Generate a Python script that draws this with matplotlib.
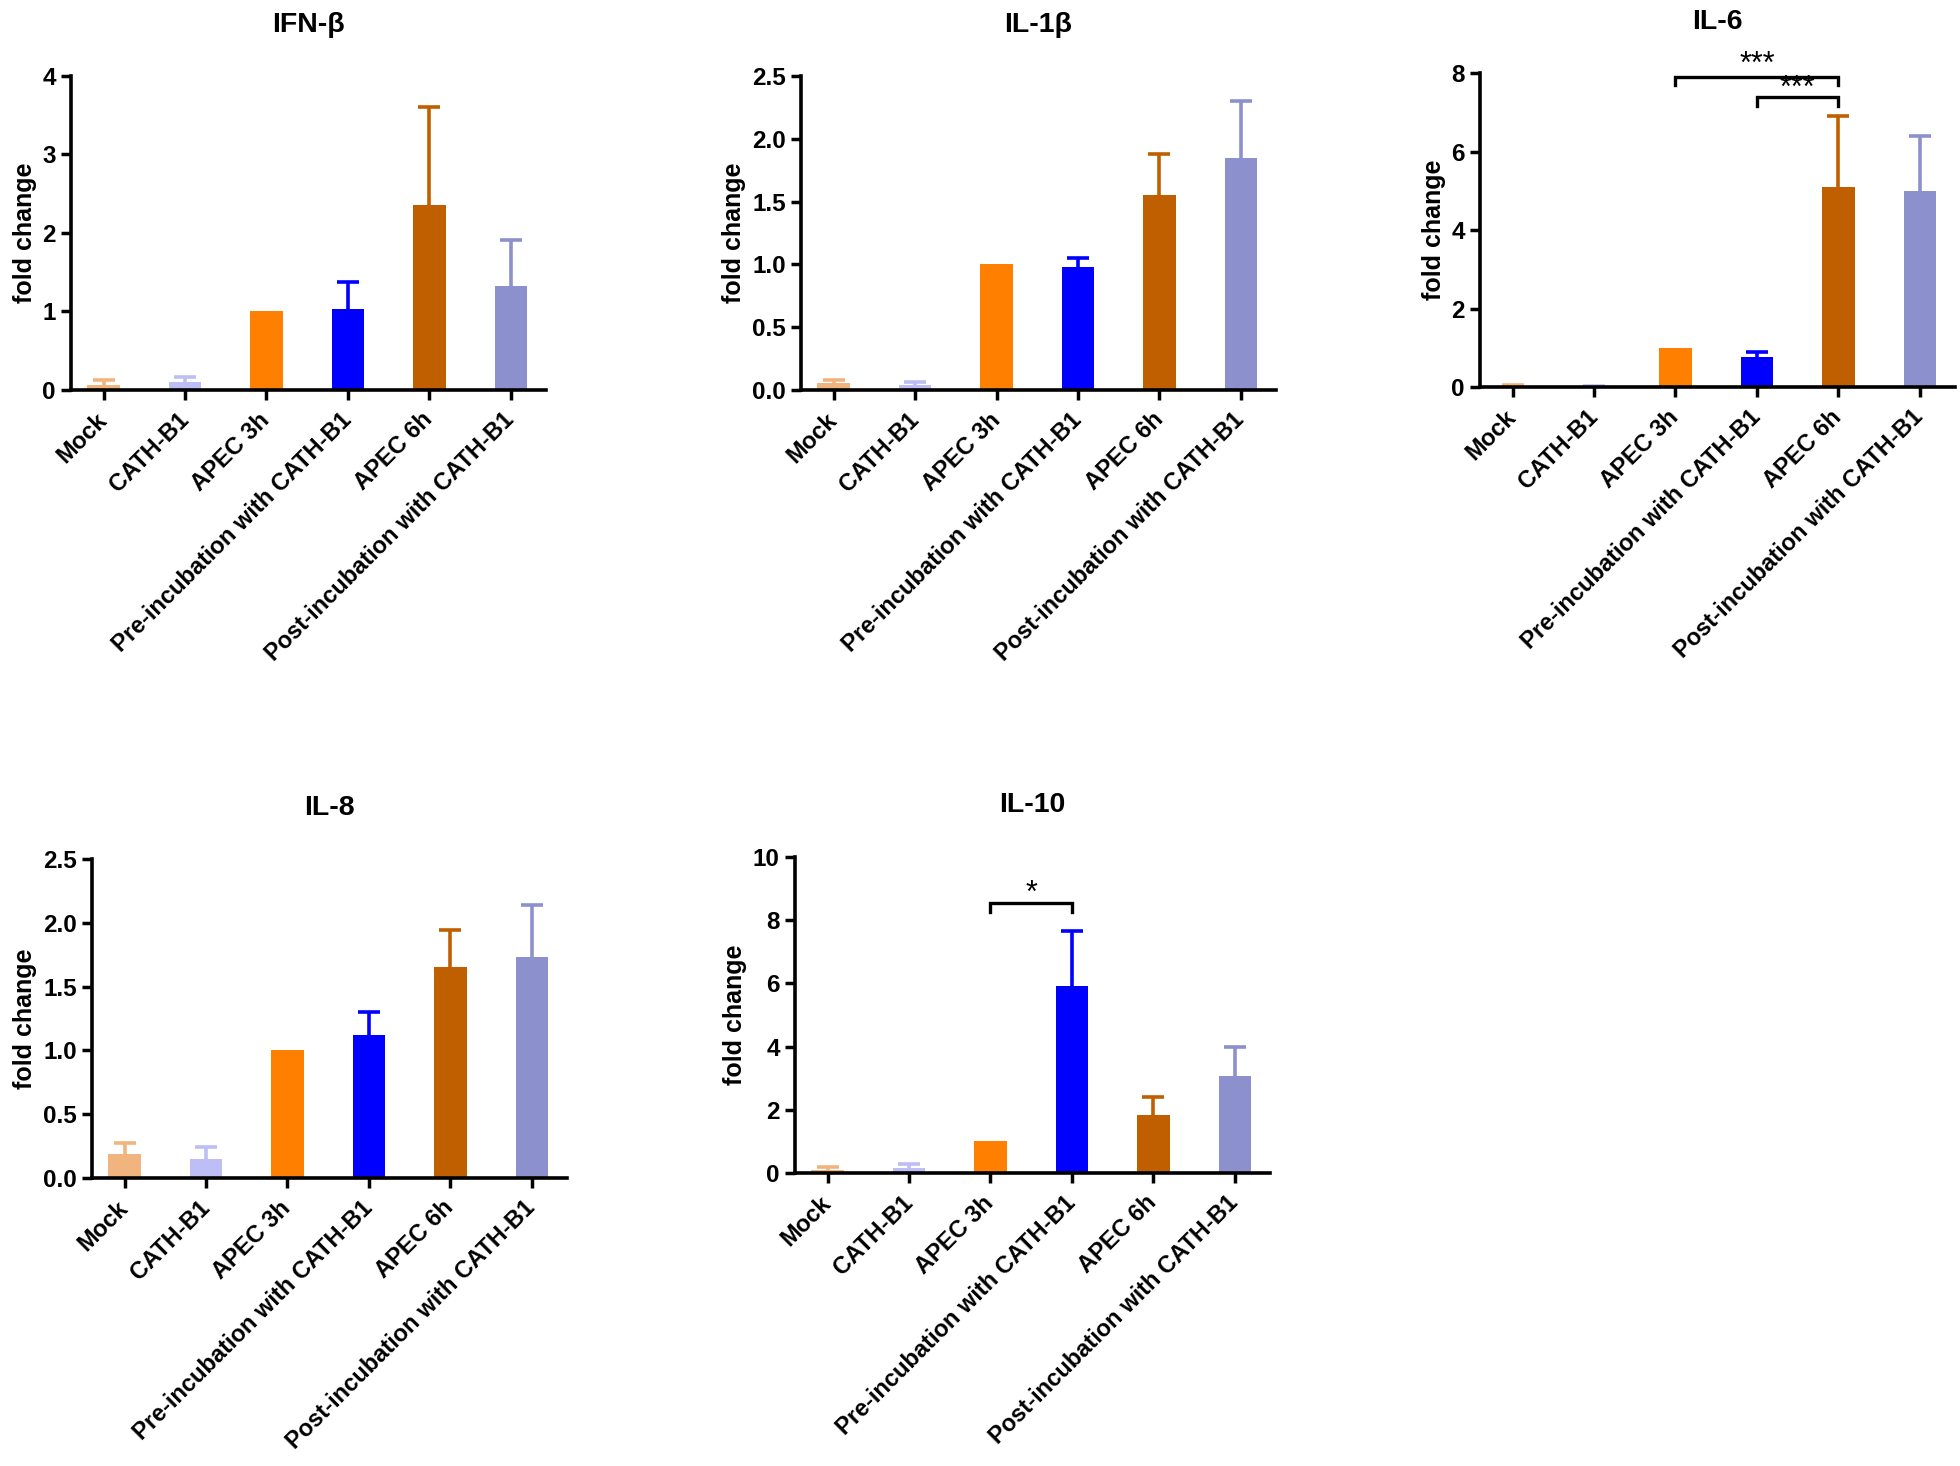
import matplotlib
matplotlib.use("Agg")
import matplotlib.pyplot as plt
import numpy as np

plt.rcParams["font.family"] = ["Liberation Sans", "DejaVu Sans"]
plt.rcParams["font.weight"] = "bold"

groups = ["Mock", "CATH-B1", "APEC 3h", "Pre-incubation with CATH-B1",
          "APEC 6h", "Post-incubation with CATH-B1"]
colors = ["#F2B47E", "#BEBEF6", "#FF8000", "#0000FF", "#C05F00", "#8C90CD"]

# mean fold change and upper error (SD) per cytokine
ifnb_mean = [0.06, 0.10, 1.0, 1.03, 2.35, 1.33]
ifnb_err = [0.065, 0.06, 0.0, 0.35, 1.26, 0.58]

il1b_mean = [0.053, 0.04, 1.0, 0.98, 1.55, 1.85]
il1b_err = [0.03, 0.02, 0.0, 0.07, 0.33, 0.45]

il6_mean = [0.03, 0.02, 1.0, 0.77, 5.09, 5.0]
il6_err = [0.01, 0.01, 0.0, 0.12, 1.81, 1.39]

il8_mean = [0.186, 0.152, 1.0, 1.12, 1.65, 1.73]
il8_err = [0.084, 0.088, 0.0, 0.18, 0.29, 0.41]

il10_mean = [0.085, 0.16, 1.0, 5.9, 1.84, 3.07]
il10_err = [0.105, 0.12, 0.0, 1.75, 0.57, 0.90]

# (title, means, errors, ymax, ystep, tick format, axes rect)
panels = [
    ("IFN-β", ifnb_mean, ifnb_err, 4, 1, "%d", [0.0362, 0.7340, 0.2423, 0.2142]),
    ("IL-1β", il1b_mean, il1b_err, 2.5, 0.5, "%.1f", [0.4087, 0.7340, 0.2423, 0.2142]),
    ("IL-6", il6_mean, il6_err, 8, 2, "%d", [0.7551, 0.7360, 0.2423, 0.2142]),
    ("IL-8", il8_mean, il8_err, 2.5, 0.5, "%.1f", [0.0469, 0.1965, 0.2423, 0.2176]),
    ("IL-10", il10_mean, il10_err, 10, 2, "%d", [0.4056, 0.1999, 0.2423, 0.2156]),
]

# significance brackets: panel title -> list of (i, j, line y, leg y, star y, label)
brackets = {
    "IL-6": [(2, 4, 7.90, 7.69, 8.20, "***"), (3, 4, 7.39, 7.16, 7.60, "***")],
    "IL-10": [(2, 3, 8.55, 8.27, 8.84, "*")],
}

fig = plt.figure(figsize=(19.6, 14.66), dpi=100)
x = np.arange(len(groups))

for title, mean, err, ymax, ystep, fmt, rect in panels:
    ax = fig.add_axes(rect)
    ax.bar(x, mean, width=0.4, color=colors, zorder=2)
    for xi, m, e, c in zip(x, mean, err, colors):
        if e > 0:
            _, caps, _ = ax.errorbar(xi, m, yerr=[[0], [e]], fmt="none", ecolor=c,
                                     elinewidth=2.6, capsize=8, capthick=2.6,
                                     zorder=1)
            caps[0].set_visible(False)
    ax.set_xlim(-0.4, 5.43)
    ax.set_ylim(0, ymax)
    ax.set_yticks(np.arange(0, ymax + ystep / 2, ystep))
    ax.yaxis.set_major_formatter(matplotlib.ticker.FormatStrFormatter(fmt))
    ax.set_xticks(x)
    ax.set_xticklabels(groups, rotation=45, ha="right", va="center",
                       rotation_mode="anchor", fontsize=17, fontweight="bold")
    ax.tick_params(axis="both", width=2.5, length=7)
    ax.tick_params(axis="y", labelsize=17.5, pad=4)
    ax.tick_params(axis="x", pad=12)
    for s in ["top", "right"]:
        ax.spines[s].set_visible(False)
    for s in ["left", "bottom"]:
        ax.spines[s].set_linewidth(2.6)
    ax.set_ylabel("fold change", fontsize=18, fontweight="bold", labelpad=4)
    ax.annotate(title, xy=(0.5, 1), xycoords="axes fraction", xytext=(0, 37),
                textcoords="offset points", ha="center", va="center",
                fontsize=20.5, fontweight="bold")

    for i, j, ly, leg, sy, lab in brackets.get(title, []):
        ax.plot([x[i], x[i], x[j], x[j]], [leg, ly, ly, leg], color="black",
                lw=2.4, clip_on=False, solid_joinstyle="miter")
        ax.text((x[i] + x[j]) / 2, sy, lab, ha="center", va="center",
                fontsize=22, fontweight="normal", clip_on=False)

fig.savefig("out.png", dpi=100)
